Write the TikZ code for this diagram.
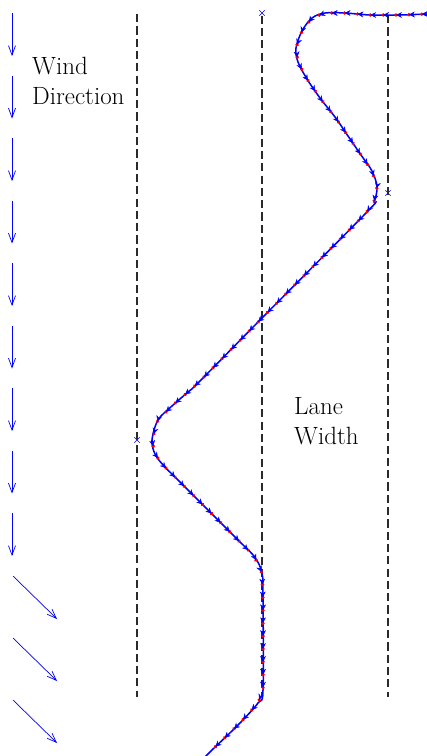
\documentclass[tikz,border=0pt]{standalone}
\usetikzlibrary{arrows.meta,decorations.markings,shapes.misc}
\definecolor{windblue}{HTML}{0000FF}
\definecolor{lanegray}{HTML}{2A2A2A}
\definecolor{dotred}{HTML}{FF0000}
\tikzset{
  lanedash/.style={
    draw=lanegray,
    line width=1.1pt,
    dash pattern=on 7pt off 3.5pt
  },
  windarrow/.style={-{Straight Barb[length=8pt,width=6pt]},draw=windblue,line width=0.6pt},
  tagcross/.style={cross out,draw=windblue,line width=0.5pt,minimum size=4pt,inner sep=0pt},
  labeltext/.style={font=\rmfamily\fontsize{21.3}{25.5}\selectfont,align=left,anchor=north west,inner sep=0pt},
  track/.style={draw=windblue,line width=1.3pt},
  trackmarks/.style={
    postaction={decorate},
    decoration={markings,
      mark=between positions 0.005 and 0.995 step 11pt with {
        \fill[dotred] (0,0) circle (1.6pt);
        \arrow[windblue]{Stealth[length=5pt,width=5pt]}
      }}
  }
}

\begin{document}
\begin{tikzpicture}[x=0.03cm,y=-0.03cm]
  \useasboundingbox (0,0) rectangle (427,756);

  % lane boundaries
  \node[tagcross] (tagtop)   at (262,13)  {};
  \node[tagcross] (tagright) at (388,193) {};
  \node[tagcross] (tagleft)  at (137,440) {};
  \coordinate (laneLtop) at (137,14);
  \coordinate (laneLbot) at (137,697);
  \coordinate (laneMbot) at (262,697);
  \coordinate (laneRtop) at (388,15);
  \coordinate (laneRbot) at (388,697);
  \draw[lanedash] (laneLtop) -- (laneLbot);
  \draw[lanedash] (tagtop) -- (laneMbot);
  \draw[lanedash] (laneRtop) -- (laneRbot);

  % wind arrows
  \foreach \k in {0,...,8}
    \draw[windarrow] (12,13+62.5*\k) -- (12,56+62.5*\k);
  \foreach \k in {0,1,2}
    \draw[windarrow] (13,576+62*\k) -- (57,619+62*\k);

  \node[labeltext] (wind) at (32,57) {Wind\\Direction};
  \node[labeltext] (lane) at (294,397) {Lane\\Width};

  % flight track
  \draw[track] plot[smooth,tension=0.55] coordinates {
    (427,14) (400,15) (370,15) (345,13) (325,13) (312,18) (302,31)
    (296,48) (298,62) (307,79) (320,98) (335,117) (348,136) (361,155)
    (372,171) (377,187) (374,202) (366,213) (262,318) (199,382)
    (188,392) (172,406) (158,420) (152,440) (155,454) (164,466)
    (181,483) (238,540) (254,556) (262,573) (263,600) (263,690)
    (258,703) (238,725) (212,750) (205,757)};
  \path[trackmarks] plot coordinates {
    (427,14) (400,15) (370,15) (345,13) (325,13) (312,18) (302,31)
    (296,48) (298,62) (307,79) (320,98) (335,117) (348,136) (361,155)
    (372,171) (377,187) (374,202) (366,213) (262,318) (199,382)
    (188,392) (172,406) (158,420) (152,440) (155,454) (164,466)
    (181,483) (238,540) (254,556) (262,573) (263,600) (263,690)
    (258,703) (238,725) (212,750) (205,757)};
\end{tikzpicture}
\end{document}
